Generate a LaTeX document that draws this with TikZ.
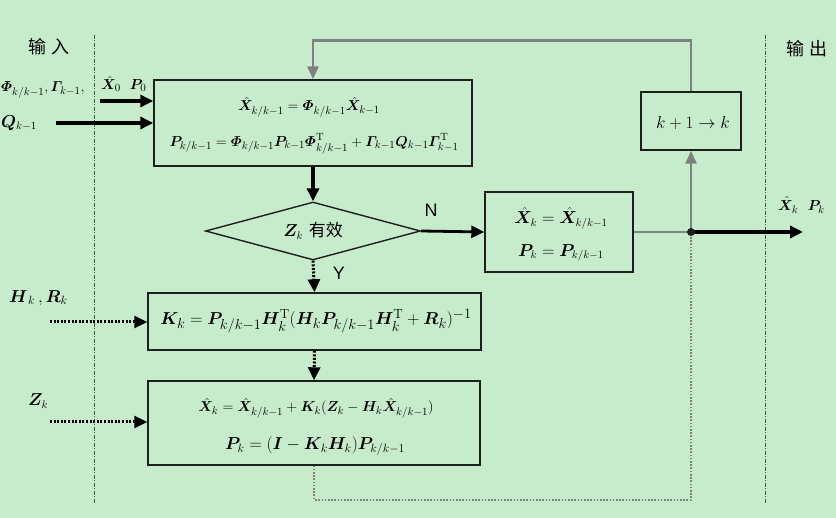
\documentclass[tikz,border=0pt]{standalone}
\usepackage{amsmath}
\usepackage{fontspec}
\usepackage{bm}
\newfontfamily\cjk{Noto Sans CJK SC}
\newfontfamily\arial{Liberation Sans}
\usetikzlibrary{arrows.meta,shapes.geometric}
\definecolor{bg}{RGB}{199,236,204}
\definecolor{lgray}{RGB}{128,128,128}
\definecolor{edge}{RGB}{30,30,30}
\tikzset{
  box/.style={draw=edge, line width=1.4pt, inner sep=0pt},
  tip/.style={-{Triangle[length=13pt,width=12pt]}},
  thickarrow/.style={tip, line width=3.5pt},
  grayline/.style={draw=lgray, line width=2.5pt},
  grayarrow/.style={grayline, -{Triangle[length=13pt,width=11pt]}},
  dotarrow/.style={tip, line width=3pt, dash pattern=on 2pt off 1.6pt},
  graydots/.style={draw=lgray, line width=2.2pt, dash pattern=on 1.6pt off 1.6pt},
  sepline/.style={draw=black!70, line width=1pt, dash pattern=on 4pt off 1.5pt on 1pt off 1.5pt},
  lab/.style={inner sep=0pt},
  eq/.style={inner sep=0pt, font=\fontsize{16}{18}\selectfont},
  eqbig/.style={inner sep=0pt, font=\fontsize{19}{21}\selectfont},
  cjklab/.style={inner sep=0pt, font=\cjk\fontsize{18}{20}\selectfont},
  yn/.style={inner sep=0pt, font=\arial\fontsize{18}{20}\selectfont},
}
\begin{document}
\begin{tikzpicture}[x=1pt,y=-1pt]
\fill[bg] (0,0) rectangle (836,518);
\useasboundingbox (0,0) rectangle (836,518);
% separators
\coordinate (s1t) at (94,35); \coordinate (s1b) at (94,503);
\coordinate (s2t) at (765,35); \coordinate (s2b) at (765,503);
\draw[sepline] (s1t) -- (s1b);
\draw[sepline] (s2t) -- (s2b);
\node[cjklab] (tin) at (49,47) {输\hspace{0.3em}入};
\node[cjklab] (tout) at (807,49) {输\hspace{0.3em}出};
% boxes
\node[box, minimum width=318pt, minimum height=86pt] (b1) at (313,123) {};
\node[eq, font=\fontsize{15.5}{17}\selectfont] (b1a) at (309,107) {$\hat{\bm{X}}_{k/k-1}=\bm{\varPhi}_{k/k-1}\hat{\bm{X}}_{k-1}$};
\node[eq, font=\fontsize{15}{17}\selectfont] (b1b) at (314,144) {$\bm{P}_{k/k-1}=\bm{\varPhi}_{k/k-1}\bm{P}_{k-1}\bm{\varPhi}_{k/k-1}^{\mathrm{T}}+\bm{\varGamma}_{k-1}\bm{Q}_{k-1}\bm{\varGamma}_{k-1}^{\mathrm{T}}$};
\node[draw=edge, line width=1.4pt, diamond, aspect=3.7, minimum width=215pt, minimum height=58pt, inner sep=0pt] (dia) at (313,231) {};
\node[eq] (diat) at (313,231) {$\bm{Z}_k$\hspace{0.35em}{\cjk\fontsize{17}{19}\selectfont 有效}};
\node[box, minimum width=148pt, minimum height=80pt] (bN) at (559,232) {};
\node[eq] (bNa) at (561,218) {$\hat{\bm{X}}_k=\hat{\bm{X}}_{k/k-1}$};
\node[eq] (bNb) at (561,253) {$\bm{P}_k=\bm{P}_{k/k-1}$};
\node[box, minimum width=100pt, minimum height=58pt] (kb) at (691,121) {};
\node[lab, font=\fontsize{17.5}{19}\selectfont] (kbt) at (693,123) {$k+1\rightarrow k$};
\node[box, minimum width=333pt, minimum height=57pt] (bK) at (314.5,321.5) {};
\node[eqbig] (bKt) at (316,321) {$\bm{K}_k=\bm{P}_{k/k-1}\bm{H}_k^{\mathrm{T}}(\bm{H}_k\bm{P}_{k/k-1}\bm{H}_k^{\mathrm{T}}+\bm{R}_k)^{-1}$};
\node[box, minimum width=332pt, minimum height=84pt] (b3) at (314,423) {};
\node[eq, font=\fontsize{15.5}{17}\selectfont] (b3a) at (316,408) {$\hat{\bm{X}}_k=\hat{\bm{X}}_{k/k-1}+\bm{K}_k(\bm{Z}_k-\bm{H}_k\hat{\bm{X}}_{k/k-1})$};
\node[eq, font=\fontsize{18.5}{20}\selectfont] (b3b) at (315,446) {$\bm{P}_k=(\bm{I}-\bm{K}_k\bm{H}_k)\bm{P}_{k/k-1}$};
% labels
\node[eq, font=\fontsize{15}{17}\selectfont, anchor=west] (lphi) at (1,90) {$\bm{\varPhi}_{k/k-1},\bm{\varGamma}_{k-1},$};
\node[eq, anchor=west] (lq) at (1,123) {$\bm{Q}_{k-1}$};
\node[eq, font=\fontsize{15}{17}\selectfont, anchor=west] (lx0) at (101,84) {$\hat{\bm{X}}_0\ \ \bm{P}_0$};
\node[eq, font=\fontsize{17}{19}\selectfont, anchor=west] (lhr) at (9,298) {$\bm{H}_{\,k}\,,\bm{R}_k$};
\node[eq, anchor=west] (lz) at (28,401) {$\bm{Z}_k$};
\node[eq, font=\fontsize{15.5}{17}\selectfont, anchor=west] (lout) at (778,205) {$\hat{\bm{X}}_k\ \ \bm{P}_k$};
\node[yn] (lN) at (431,210) {N};
\node[yn] (lY) at (339,273) {Y};
% inputs
\coordinate (inA) at (100,101);
\coordinate (inB) at (56,123);
\coordinate (inH) at (50,322);
\coordinate (inZ) at (50,422);
\draw[thickarrow] (inA) -- (inA -| b1.west);
\draw[thickarrow] (inB) -- (inB -| b1.west);
\draw[dotarrow] (inH) -- (inH -| bK.west);
\draw[dotarrow] (inZ) -- (inZ -| b3.west);
% main flow
\draw[thickarrow] (b1.south) -- (dia.north);
\draw[thickarrow, line width=2.8pt] (dia.east) -- (bN.west);
\draw[dotarrow] (dia.south) -- (bK.north);
\draw[dotarrow] (bK.south) -- (b3.north);
% junction and output
\coordinate (J) at (691,232);
\coordinate (outE) at (803,232);
\draw[grayline] (bN.east) -- (J);
\draw[grayarrow] (J) -- (kb.south);
\draw[grayarrow] (kb.north) -- ++(0,-51) -| (b1.north);
\draw[graydots] (b3.south) -- ++(0,34) -| (J);
\draw[thickarrow] (J) -- (outE);
\fill[edge] (J) circle (4pt);
\end{tikzpicture}
\end{document}
